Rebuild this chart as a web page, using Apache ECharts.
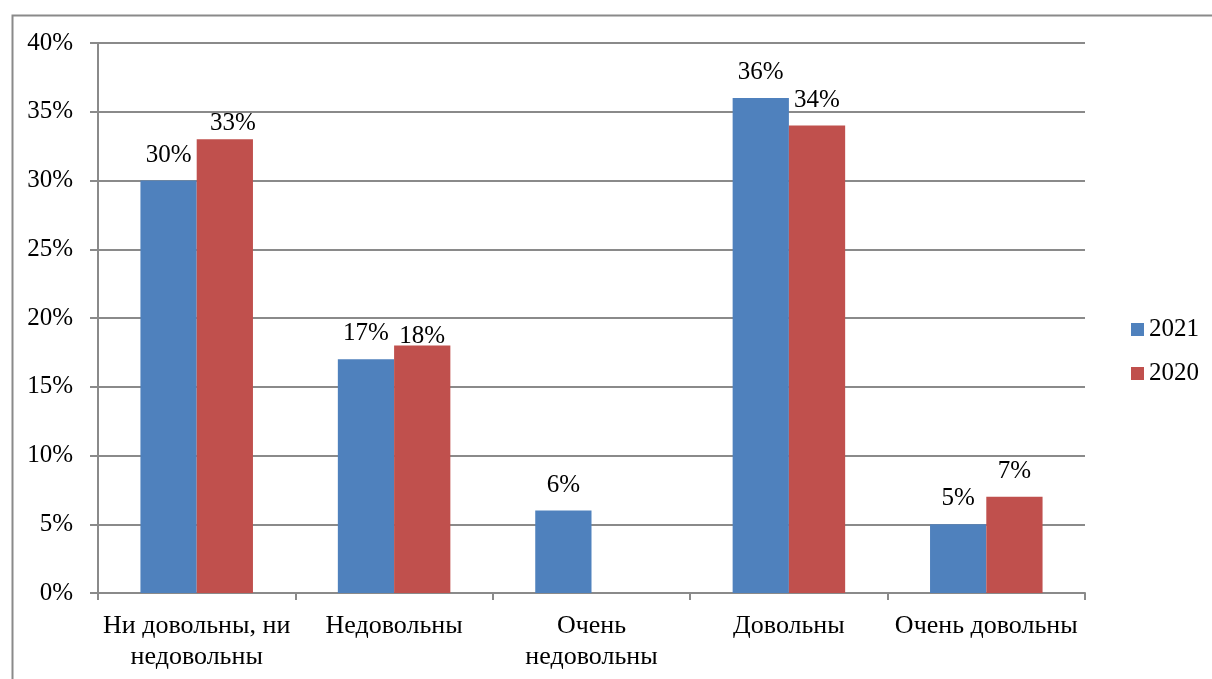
<!DOCTYPE html>
<html><head><meta charset="utf-8">
<script src="https://cdn.jsdelivr.net/npm/echarts@6/dist/echarts.min.js"></script>
<style>html,body{margin:0;padding:0;background:#fff}#c{width:1212px;height:679px}</style>
</head><body><div id="c"></div>
<script>
const categories = ['Ни довольны, ни\nнедовольны', 'Недовольны', 'Очень\nнедовольны', 'Довольны', 'Очень довольны'];
const values2021 = [30, 17, 6, 36, 5];
const values2020 = [33, 18, 0, 34, 7];
const seriesNames = ['2021', '2020'];
const font = 'Liberation Serif, Times New Roman, serif';
// manually nudged data labels in the original (series index -> category index -> [dx, dy])
const labelNudges = {1: {0: [8, 10], 1: [0, 16]}};
const chart = echarts.init(document.getElementById('c'));
const lbl = {show: true, position: 'top', distance: 13, color: '#000', fontFamily: font, fontSize: 25,
  formatter: p => p.value === 0 ? '' : p.value + '%'};
function buildData(values, si) {
  return values.map((v, i) => {
    const n = labelNudges[si] && labelNudges[si][i];
    return n ? {value: v, label: {offset: n}} : v;
  });
}
chart.setOption({
  animation: false,
  textStyle: {fontFamily: font},
  graphic: [{type: 'rect', left: 10, top: 13, shape: {width: 1400, height: 900}, style: {fill: 'none', stroke: '#8a8a8a', lineWidth: 2}, silent: true}],
  grid: {left: 98, right: 127, top: 43, bottom: 86, containLabel: false},
  legend: {orient: 'vertical', left: 1126, top: 312, itemWidth: 13, itemHeight: 13, itemGap: 19,
    icon: 'rect', textStyle: {fontFamily: font, fontSize: 25, color: '#000'}, data: seriesNames},
  xAxis: {type: 'category', data: categories,
    axisLine: {lineStyle: {color: '#8a8a8a', width: 2}},
    axisTick: {show: true, length: 7, lineStyle: {color: '#8a8a8a', width: 2}},
    axisLabel: {color: '#000', fontFamily: font, fontSize: 26, lineHeight: 31, margin: 18, interval: 0}},
  yAxis: {type: 'value', min: 0, max: 40, interval: 5,
    axisLine: {show: true, lineStyle: {color: '#8a8a8a', width: 2}},
    axisTick: {show: true, length: 8, lineStyle: {color: '#8a8a8a', width: 2}},
    splitLine: {lineStyle: {color: '#8a8a8a', width: 2}},
    axisLabel: {color: '#000', fontFamily: font, fontSize: 25, margin: 25, formatter: '{value}%'}},
  series: [
    {name: seriesNames[0], type: 'bar', data: buildData(values2021, 0), barGap: '0%', barCategoryGap: '43%',
      itemStyle: {color: '#4F81BD'}, label: lbl},
    {name: seriesNames[1], type: 'bar', data: buildData(values2020, 1),
      itemStyle: {color: '#C0504D'}, label: lbl}
  ]
});
</script></body></html>
